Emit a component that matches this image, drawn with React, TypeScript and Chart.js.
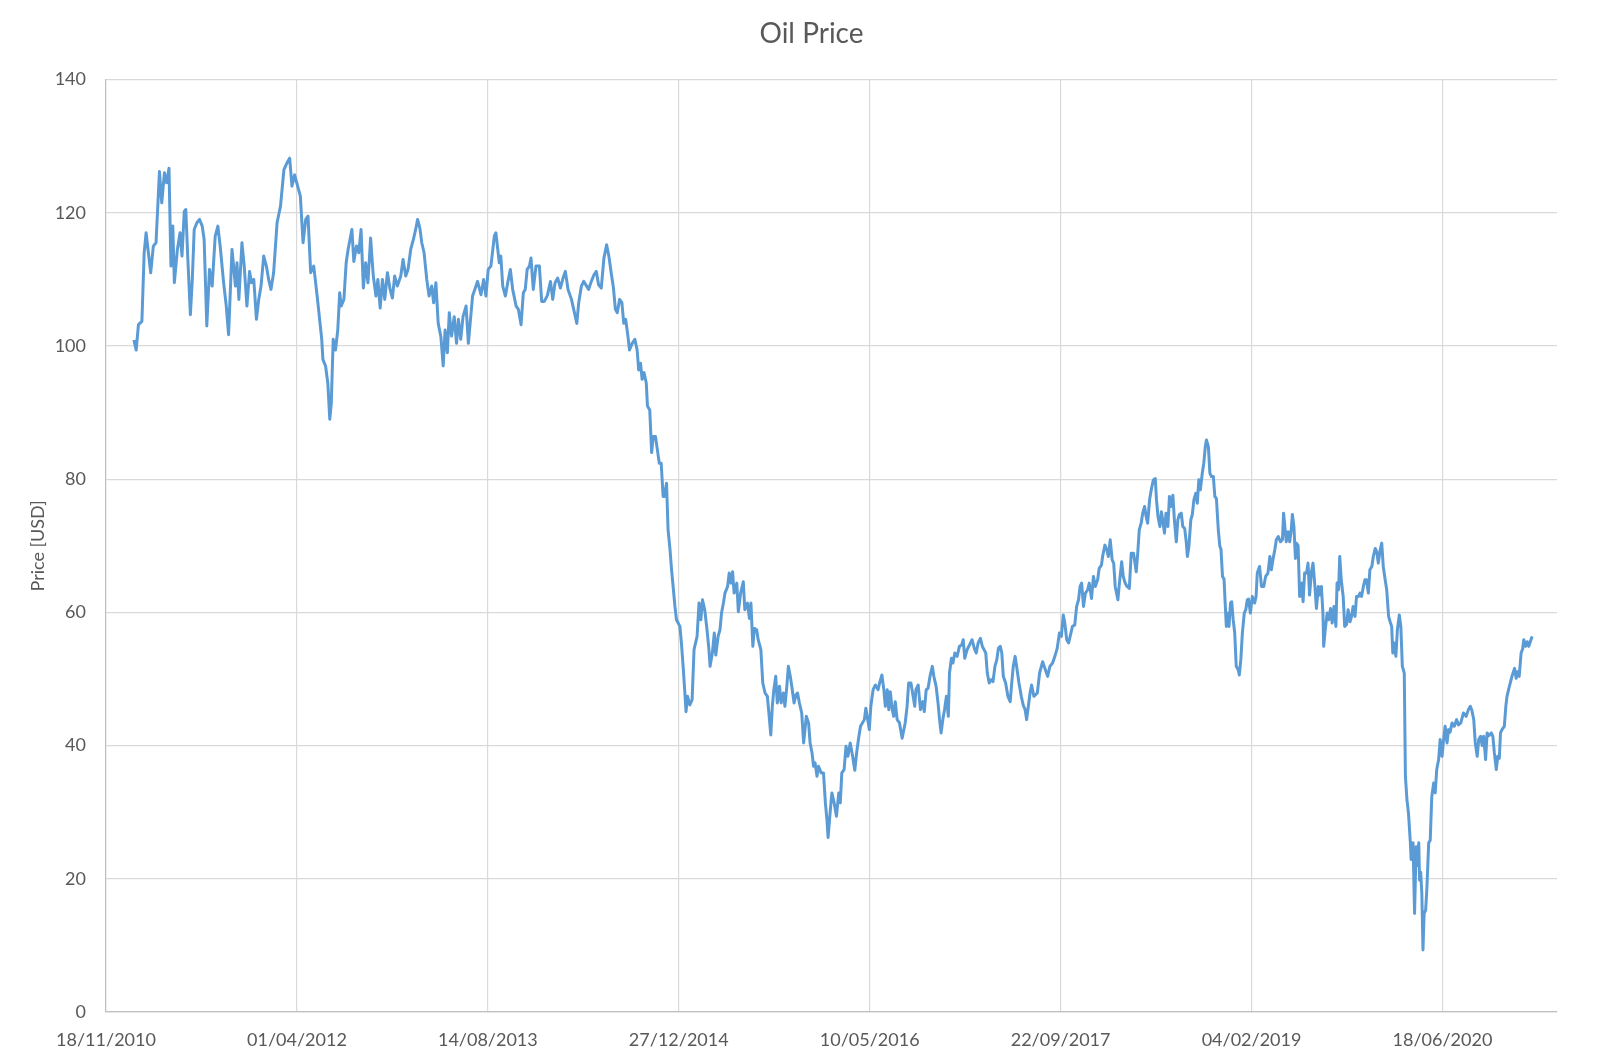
import { useEffect, useRef } from 'react';
import { Chart, registerables } from 'chart.js';

Chart.register(...registerables);

// x values are days counted from 18/11/2010 (first x-axis tick)
const AXIS_ORIGIN = Date.UTC(2010, 10, 18);
const AXIS_DAYS = 3800;
const tickDays = [0, 500, 1000, 1500, 2000, 2500, 3000, 3500];
const priceTicks = [0, 20, 40, 60, 80, 100, 120, 140];

// prices, one line of days matches one line of prices
const sampleDays = [
  73, 79, 85, 94, 100, 105, 117, 124, 131, 140,
  146, 153, 159, 165, 170, 175, 179, 187, 194, 199,
  205, 209, 214, 221, 226, 231, 238, 245, 252, 257,
  264, 271, 278, 286, 293, 299, 308, 315, 321, 330,
  339, 343, 348, 356, 362, 369, 376, 381, 387, 394,
  400, 406, 413, 420, 426, 432, 439, 448, 457, 466,
  474, 481, 487, 494, 501, 509, 516, 523, 529, 536,
  544, 553, 565, 568, 575, 581, 586, 590, 595, 601,
  607, 612, 616, 623, 629, 634, 639, 644, 649, 656,
  662, 668, 674, 680, 686, 693, 700, 707, 712, 718,
  724, 730, 737, 744, 750, 756, 763, 772, 778, 785,
  791, 798, 805, 811, 816, 822, 827, 833, 840, 846,
  853, 858, 864, 870, 877, 883, 888, 894, 899, 905,
  912, 918, 923, 929, 935, 943, 949, 960, 969, 973,
  982, 989, 995, 1001, 1008, 1017, 1021, 1030, 1034, 1039,
  1046, 1052, 1059, 1065, 1074, 1080, 1087, 1093, 1098, 1103,
  1109, 1113, 1119, 1126, 1135, 1141, 1148, 1156, 1164, 1170,
  1176, 1183, 1190, 1197, 1203, 1210, 1219, 1223, 1233, 1238,
  1245, 1251, 1264, 1271, 1278, 1284, 1290, 1297, 1304, 1311,
  1317, 1323, 1329, 1334, 1339, 1345, 1351, 1356, 1361, 1367,
  1371, 1378, 1385, 1391, 1395, 1400, 1404, 1409, 1415, 1418,
  1424, 1429, 1433, 1439, 1444, 1449, 1454, 1459, 1462, 1468,
  1472, 1477, 1481, 1486, 1490, 1494, 1503, 1507, 1512, 1516,
  1519, 1523, 1529, 1535, 1540, 1548, 1553, 1558, 1562, 1568,
  1574, 1579, 1582, 1588, 1593, 1597, 1603, 1608, 1612, 1617,
  1621, 1628, 1632, 1637, 1641, 1645, 1652, 1656, 1662, 1669,
  1673, 1680, 1685, 1689, 1694, 1698, 1704, 1708, 1715, 1720,
  1726, 1732, 1736, 1741, 1745, 1749, 1754, 1758, 1764, 1768,
  1774, 1778, 1783, 1787, 1792, 1796, 1802, 1807, 1811, 1816,
  1822, 1827, 1834, 1840, 1844, 1849, 1853, 1857, 1862, 1866,
  1873, 1879, 1884, 1888, 1891, 1897, 1901, 1907, 1913, 1919,
  1923, 1927, 1933, 1938, 1943, 1949, 1955, 1961, 1966, 1971,
  1976, 1986, 1990, 1999, 2003, 2009, 2015, 2022, 2026, 2032,
  2037, 2041, 2046, 2050, 2054, 2059, 2063, 2067, 2072, 2078,
  2085, 2093, 2098, 2102, 2108, 2118, 2121, 2127, 2133, 2139,
  2143, 2148, 2153, 2158, 2164, 2168, 2174, 2179, 2183, 2187,
  2192, 2196, 2201, 2206, 2209, 2214, 2218, 2223, 2229, 2235,
  2241, 2245, 2249, 2255, 2264, 2268, 2274, 2279, 2284, 2290,
  2295, 2304, 2308, 2313, 2319, 2323, 2328, 2333, 2337, 2342,
  2346, 2350, 2356, 2362, 2368, 2372, 2376, 2381, 2391, 2397,
  2402, 2407, 2411, 2420, 2424, 2430, 2439, 2445, 2453, 2457,
  2466, 2472, 2479, 2485, 2491, 2497, 2502, 2507, 2511, 2516,
  2521, 2527, 2531, 2537, 2542, 2547, 2551, 2555, 2560, 2565,
  2571, 2575, 2581, 2586, 2591, 2597, 2601, 2607, 2610, 2616,
  2621, 2625, 2630, 2635, 2639, 2643, 2650, 2654, 2660, 2664,
  2669, 2674, 2680, 2685, 2691, 2698, 2702, 2706, 2711, 2715,
  2720, 2724, 2728, 2733, 2738, 2743, 2748, 2751, 2755, 2760,
  2764, 2767, 2772, 2776, 2781, 2785, 2789, 2794, 2798, 2803,
  2807, 2811, 2816, 2820, 2825, 2829, 2832, 2836, 2841, 2845,
  2849, 2854, 2858, 2862, 2866, 2871, 2875, 2879, 2882, 2887,
  2891, 2895, 2900, 2904, 2908, 2913, 2917, 2920, 2924, 2928,
  2931, 2934, 2937, 2941, 2945, 2948, 2952, 2956, 2960, 2965,
  2968, 2972, 2976, 2981, 2985, 2989, 2992, 2997, 3002, 3008,
  3012, 3015, 3021, 3026, 3032, 3037, 3043, 3048, 3052, 3056,
  3061, 3065, 3070, 3076, 3081, 3084, 3088, 3091, 3096, 3100,
  3104, 3107, 3111, 3115, 3118, 3122, 3126, 3131, 3135, 3139,
  3144, 3148, 3152, 3157, 3161, 3166, 3170, 3175, 3179, 3183,
  3187, 3189, 3193, 3198, 3202, 3207, 3211, 3216, 3221, 3224,
  3228, 3231, 3235, 3240, 3244, 3249, 3253, 3258, 3262, 3266,
  3271, 3275, 3280, 3284, 3288, 3293, 3297, 3301, 3306, 3310,
  3315, 3319, 3324, 3328, 3332, 3337, 3341, 3345, 3350, 3354,
  3359, 3363, 3367, 3370, 3374, 3378, 3382, 3387, 3391, 3395,
  3400, 3403, 3407, 3411, 3416, 3418, 3423, 3427, 3431, 3434,
  3438, 3440, 3443, 3446, 3449, 3452, 3456, 3459, 3464, 3468,
  3472, 3477, 3481, 3485, 3490, 3494, 3499, 3503, 3507, 3512,
  3516, 3520, 3525, 3531, 3537, 3542, 3548, 3555, 3562, 3568,
  3573, 3577, 3582, 3586, 3591, 3595, 3600, 3604, 3608, 3613,
  3617, 3622, 3628, 3632, 3636, 3641, 3645, 3649, 3652, 3656,
  3662, 3666, 3669, 3674, 3682, 3689, 3693, 3697, 3701, 3706,
  3710, 3713, 3718, 3722, 3726, 3730, 3735,
];

const oilPrices = [
  100.9, 99.4, 103.2, 103.7, 114, 117, 111, 115, 115.5, 126.2,
  121.5, 126, 124.5, 126.7, 112, 118, 109.5, 114.5, 117, 113.5,
  120.2, 120.5, 113.5, 104.7, 110, 117.5, 118.5, 119, 118, 116,
  103, 111.5, 109, 116.5, 118, 115, 109.5, 106, 101.7, 114.5,
  109, 112.5, 107, 115.5, 112, 106, 111.2, 109.5, 110, 104,
  107, 109, 113.5, 112, 110, 108.5, 111, 118.5, 121, 126.5,
  127.5, 128.2, 124, 125.7, 124.2, 122.5, 115.5, 119, 119.5, 111,
  112, 107.5, 101, 98, 97, 94.4, 89, 91.4, 101, 99.4,
  102.4, 108, 106, 107, 112.5, 114.5, 116, 117.5, 112.7, 115,
  114, 117.5, 108.7, 112.5, 109.5, 116.2, 110.5, 107.5, 110, 105.7,
  110, 107, 111, 108.5, 107.2, 110.5, 109, 110.5, 113, 110.5,
  111.5, 114.5, 116, 117.5, 119, 117.7, 115.5, 114, 110, 107.5,
  109, 106.5, 109.5, 103.4, 101.4, 97, 102.4, 99, 105, 101.5,
  104.4, 100.4, 104, 101, 104.4, 106, 100.4, 107.5, 109, 109.7,
  107.7, 110, 107.5, 111.5, 112, 116.5, 117, 112.5, 113.5, 109,
  107.5, 109.5, 111.5, 108.5, 106, 105.5, 103.2, 108, 108.5, 111.5,
  112, 113.2, 108.5, 112, 112, 106.7, 106.7, 107.6, 109.7, 107,
  109.5, 110.2, 108.7, 110.2, 111.2, 108.5, 107, 106, 103.4, 106.5,
  109, 109.7, 108.5, 109.7, 110.7, 111.2, 109.2, 108.7, 113.2, 115.2,
  113.5, 111, 108.7, 105.5, 105, 107, 106.5, 103.4, 104, 101.4,
  99.4, 100.4, 101, 99.4, 96.4, 97.4, 95, 96, 94.4, 91,
  90.4, 84, 86.4, 86.4, 84.4, 82.4, 82.4, 77.4, 77.4, 79.4,
  72.4, 69.5, 66.5, 63.4, 60.9, 58.9, 57.9, 55.4, 51.4, 47.9,
  45.1, 47.4, 46.1, 46.9, 54.4, 56.4, 61.4, 58.9, 61.9, 60.4,
  57.4, 54.4, 51.9, 53.9, 56.9, 53.6, 56.4, 57.4, 59.9, 61.4,
  62.9, 63.9, 65.9, 64.4, 66.1, 62.9, 64.4, 60.1, 62.9, 64.6,
  60.4, 61.4, 59.1, 61.4, 54.9, 57.6, 57.4, 55.9, 54.4, 49.4,
  47.9, 47.4, 44.9, 41.6, 45.9, 48.4, 50.4, 46.4, 48.9, 46.4,
  47.9, 45.9, 48.9, 51.9, 50.4, 48.9, 46.4, 47.6, 47.9, 46.4,
  44.9, 40.4, 44.4, 43.4, 40.4, 38.9, 36.9, 37.4, 35.4, 36.9,
  35.9, 35.9, 31.4, 28.9, 26.2, 30.4, 32.9, 31.4, 29.4, 32.9,
  31.4, 35.9, 36.4, 39.9, 38.4, 40.4, 38.5, 36.3, 39, 41.1,
  42.9, 43.9, 45.6, 42.4, 45.9, 48.4, 49.1, 48.4, 49.4, 50.6,
  48.4, 45.9, 48.4, 45.4, 48.1, 45.4, 44.4, 46.6, 43.9, 43.4,
  41.1, 43.4, 45.9, 49.4, 49.4, 45.9, 48.4, 49.1, 45.4, 46.6,
  45.1, 48.4, 48.6, 50.4, 51.9, 50.4, 48.9, 46.4, 43.9, 41.9,
  44.1, 45.4, 47.4, 44.4, 50.9, 53.1, 52.4, 53.9, 53.4, 54.9,
  55.1, 55.9, 53.1, 54.4, 55.4, 55.9, 54.6, 53.9, 55.4, 56.1,
  54.9, 53.9, 50.9, 49.4, 49.9, 49.6, 51.9, 52.9, 54.6, 54.9,
  53.9, 50.4, 49.4, 47.4, 46.6, 49.4, 51.9, 53.4, 49.4, 47.4,
  46.1, 45.4, 43.9, 47.9, 49.1, 47.4, 47.9, 50.9, 52.6, 51.9,
  50.4, 51.9, 52.4, 53.4, 54.6, 56.9, 56.4, 59.6, 58.4, 55.9,
  55.4, 56.9, 57.9, 58.1, 60.9, 61.9, 63.9, 64.4, 60.9, 62.9,
  63.4, 64.4, 62.1, 65.4, 63.9, 64.9, 66.6, 67.1, 68.4, 70.1,
  69.4, 68.4, 70.9, 67.9, 67.4, 63.9, 61.9, 64.4, 67.6, 65.4,
  64.4, 63.9, 63.6, 68.9, 68.9, 66.1, 68.9, 72.4, 73.4, 74.9,
  75.9, 74.4, 73.4, 76.9, 78.6, 79.9, 80.1, 77, 74.4, 72.9,
  75.1, 74, 71.9, 74.9, 72.9, 77.4, 75.9, 77.6, 73.9, 70.6,
  73.9, 74.7, 74.9, 72.9, 72.6, 70.6, 68.4, 69.9, 73.9, 74.7,
  76.9, 77.9, 76.4, 79.9, 78.4, 80.9, 82.4, 84.9, 85.9, 84.9,
  80.9, 80.4, 80.4, 77.4, 77.1, 72.4, 69.9, 69.5, 65.4, 65,
  61.4, 57.9, 59.9, 57.9, 61.4, 61.6, 58.9, 56.9, 51.9, 51.4,
  50.6, 52.9, 56.9, 59.9, 60.4, 61.9, 62, 59.9, 62.4, 61.4,
  62.4, 65.9, 66.9, 63.9, 63.9, 65.4, 65.9, 68.4, 66.4, 67.9,
  69.4, 70.9, 71.4, 70.6, 70.9, 74.9, 72.4, 70.6, 72.1, 70.6,
  72.4, 74.7, 72.9, 68.1, 70.4, 70, 62.4, 64.4, 61.6, 65.9,
  65.9, 67.4, 62.6, 66.1, 67.4, 63.9, 60.6, 63.9, 62.6, 63.9,
  59.9, 54.9, 57.4, 59.9, 58.9, 60.6, 58.4, 60.9, 57.9, 64.4,
  63.4, 68.4, 64.9, 62.4, 57.9, 58.2, 60.4, 58.6, 59.4, 60.9,
  59.4, 62.4, 62.4, 62.9, 62.4, 63.9, 64.9, 64.9, 62.9, 66.4,
  66.9, 68.4, 69.6, 69.1, 67.4, 69.4, 70.4, 66.9, 64.9, 63.4,
  59.4, 58.6, 57.9, 53.9, 55.4, 53.4, 57.4, 59.6, 57.9, 51.9,
  50.9, 35.4, 31.9, 29.9, 25.4, 22.9, 25.4, 14.8, 24.8, 22,
  25.4, 19.8, 21, 17.8, 9.3, 14.8, 15.3, 18.3, 25.4, 25.8,
  32.3, 34.4, 32.9, 36.4, 37.9, 40.9, 38.4, 40.9, 42.9, 40.4,
  42.4, 42, 43.4, 42.9, 43.9, 43.1, 43.4, 44.9, 44.4, 45.4,
  45.9, 45.3, 43.9, 40.4, 38.4, 40.9, 41.4, 40, 41.4, 37.9,
  41.9, 41.5, 41.9, 41.4, 38.9, 36.4, 38.4, 38.1, 41.9, 42.4,
  42.9, 45.9, 47.4, 48.6, 50.4, 51.6, 50.1, 51.1, 50.4, 53.9,
  54.5, 55.9, 54.9, 55.6, 54.9, 55.6, 56.4,
];

const FONT = 'Lato, "Open Sans", sans-serif';
const TEXT_COLOR = '#595959';

function dayLabel(day: number) {
  const d = new Date(AXIS_ORIGIN + day * 86400000);
  const dd = String(d.getUTCDate()).padStart(2, '0');
  const mm = String(d.getUTCMonth() + 1).padStart(2, '0');
  return `${dd}/${mm}/${d.getUTCFullYear()}`;
}

function OilPriceChart() {
  const canvasRef = useRef<HTMLCanvasElement>(null);
  const chartRef = useRef<Chart | null>(null);

  useEffect(() => {
    if (!canvasRef.current) return;
    if (chartRef.current) {
      chartRef.current.destroy();
      chartRef.current = null;
    }

    const points = sampleDays.map((d, i) => ({ x: d, y: oilPrices[i] }));

    chartRef.current = new Chart(canvasRef.current, {
      type: 'line',
      data: {
        datasets: [
          {
            label: 'Oil Price',
            data: points,
            borderColor: '#5b9bd5',
            backgroundColor: '#5b9bd5',
            borderWidth: 3,
            pointRadius: 0,
            tension: 0,
            borderJoinStyle: 'round',
            fill: false,
          },
        ],
      },
      options: {
        responsive: true,
        maintainAspectRatio: false,
        animation: false,
        layout: { padding: { left: 12, right: 0, top: 0, bottom: 0 } },
        plugins: {
          legend: { display: false },
          tooltip: { enabled: false },
          title: {
            display: true,
            text: 'Oil Price',
            color: TEXT_COLOR,
            font: { family: FONT, size: 28, weight: 'normal' },
            padding: { top: 17, bottom: 29 },
          },
        },
        scales: {
          x: {
            type: 'linear',
            min: 0,
            max: AXIS_DAYS,
            afterFit: (scale: any) => {
              scale.height = 48;
            },
            afterBuildTicks: (scale: any) => {
              scale.ticks = tickDays.map((v) => ({ value: v }));
            },
            ticks: {
              autoSkip: false,
              maxRotation: 0,
              padding: 17,
              color: TEXT_COLOR,
              font: { family: FONT, size: 18 },
              callback: (v: any) => dayLabel(Number(v)),
            },
            grid: { color: '#d9d9d9', lineWidth: 1.2, drawTicks: false },
            border: { color: '#bfbfbf', width: 1.2 },
          },
          y: {
            min: 0,
            max: 140,
            afterFit: (scale: any) => {
              scale.width = 94;
            },
            afterBuildTicks: (scale: any) => {
              scale.ticks = priceTicks.map((v) => ({ value: v }));
            },
            ticks: {
              padding: 20,
              color: TEXT_COLOR,
              font: { family: FONT, size: 18 },
            },
            grid: { color: '#d9d9d9', lineWidth: 1.2, drawTicks: false },
            border: { color: '#bfbfbf', width: 1.2 },
            title: {
              display: true,
              text: 'Price [USD]',
              color: TEXT_COLOR,
              font: { family: FONT, size: 18 },
              padding: { top: 15, bottom: 0 },
            },
          },
          // empty right-hand axis: keeps the gap right of the plot so the title stays centred on the canvas
          gap: {
            type: 'linear',
            position: 'right',
            min: 0,
            max: 1,
            afterFit: (scale: any) => {
              scale.width = 54;
            },
            ticks: { display: false },
            grid: { display: false, drawTicks: false },
            border: { display: false },
          },
        },
      },
    });

    return () => {
      if (chartRef.current) {
        chartRef.current.destroy();
        chartRef.current = null;
      }
    };
  }, []);

  return (
    <div style={{ width: 1611, height: 1060, position: 'relative', background: '#ffffff' }}>
      <canvas ref={canvasRef} />
    </div>
  );
}

export default function App() {
  useEffect(() => {
    document.body.style.margin = '0';
  }, []);
  return <OilPriceChart />;
}
